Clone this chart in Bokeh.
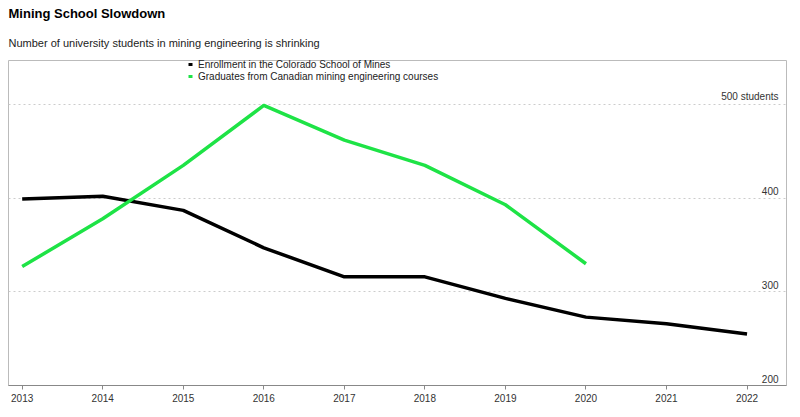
from bokeh.plotting import figure
from bokeh.models import Range1d, FixedTicker, Title, Legend, LegendItem, ColumnDataSource
from bokeh.embed import file_html
from bokeh.resources import INLINE
from bokeh.core.properties import value

years = [2013, 2014, 2015, 2016, 2017, 2018, 2019, 2020, 2021, 2022]
mines_enrollment = [399, 402, 387, 347, 316, 316, 293, 273, 266, 255]
grad_years = [2013, 2014, 2015, 2016, 2017, 2018, 2019, 2020]
canada_graduates = [327, 378, 435, 499, 462, 435, 393, 330]
series_names = ["Enrollment in the Colorado School of Mines",
                "Graduates from Canadian mining engineering courses"]
ytick_values = [200, 300, 400, 500]
ytick_labels = ["200", "300", "400", "500 students"]
title_text = "Mining School Slowdown"
subtitle_text = "Number of university students in mining engineering is shrinking"

FONT = "Liberation Sans"
BLACK = "#000000"
GREEN = "#1ee346"
NAN = float("nan")

p = figure(width=800, height=417, output_backend="svg", toolbar_location=None,
           x_range=Range1d(2012.83, 2022.49), y_range=Range1d(200, 547),
           min_border_left=8, min_border_right=14, min_border_bottom=32, min_border_top=0,
           y_axis_location=None)

p.outline_line_color = "#bbbbbb"
p.background_fill_color = "white"
p.border_fill_color = "white"

# x axis
xa = p.xaxis[0]
xa.ticker = FixedTicker(ticks=years)
xa.minor_tick_line_color = None
xa.axis_line_color = "#888888"
xa.major_tick_line_color = "#888888"
xa.major_tick_out = 4
xa.major_tick_in = 0
xa.major_label_text_font = FONT
xa.major_label_text_font_size = "10px"
xa.major_label_text_color = "#333333"
xa.major_label_standoff = 4

# grids
p.xgrid.visible = False
p.ygrid.ticker = FixedTicker(ticks=ytick_values[1:])
p.ygrid.grid_line_color = "#cccccc"
p.ygrid.grid_line_dash = "2 3"

# y labels inside the plot on the right
ysrc = ColumnDataSource(dict(y=ytick_values, t=ytick_labels,
                             x=[p.x_range.end] * len(ytick_values)))
p.text(x="x", y="y", text="t", source=ysrc, text_align="right", text_baseline="bottom",
       x_offset=-8, y_offset=-3, text_font=value(FONT), text_font_size="10px",
       text_color="#333333")

# lines
p.line(years, mines_enrollment, line_color=BLACK, line_width=3.5, line_join="round")
p.line(grad_years, canada_graduates, line_color=GREEN, line_width=3.5, line_join="round")

# legend (invisible placeholder renderers supply the icons)
r1 = p.scatter(x=[NAN], y=[NAN], marker="dash", size=9, line_width=3, line_color=BLACK)
r2 = p.scatter(x=[NAN], y=[NAN], marker="dash", size=9, line_width=3, line_color=GREEN)
legend = Legend(items=[LegendItem(label=series_names[0], renderers=[r1]),
                       LegendItem(label=series_names[1], renderers=[r2])],
                location=(177, 303), orientation="vertical",
                border_line_color=None, background_fill_alpha=0,
                label_text_font=FONT, label_text_font_size="10px", label_text_color="#222222",
                glyph_width=10, glyph_height=12, label_height=12, label_standoff=3,
                spacing=0, padding=2, margin=0)
p.add_layout(legend, "center")

# titles
p.add_layout(Title(text=subtitle_text, text_font=FONT, text_font_size="11px",
                   text_font_style="normal", text_color="#222222", standoff=24), "above")
p.add_layout(Title(text=title_text, text_font=FONT, text_font_size="13px",
                   text_font_style="bold", text_color="#000000", standoff=3), "above")
p.min_border_top = 60

open("out.html", "w").write(file_html(p, INLINE))
